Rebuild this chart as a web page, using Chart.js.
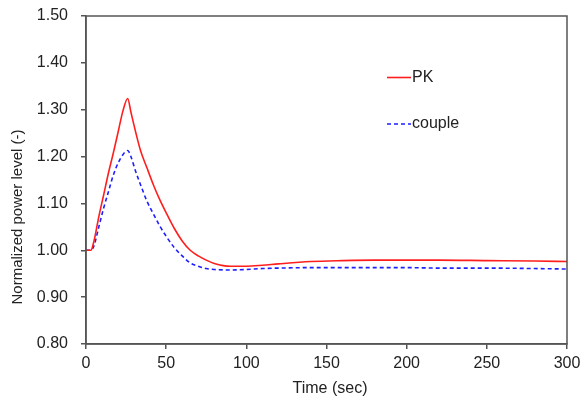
<!DOCTYPE html>
<html>
<head>
<meta charset="utf-8">
<script src="https://cdn.jsdelivr.net/npm/chart.js@4"></script>
<style>
  html, body { margin: 0; padding: 0; background: #fff; }
  #wrap { width: 581px; height: 398px; }
</style>
</head>
<body>
<div id="wrap"><canvas id="powerChart" width="581" height="398"></canvas></div>
<script>
// Time (sec)
const times = [0, 3, 5, 8, 11, 14, 17, 20, 23, 26, 28, 31, 34, 38, 42, 46, 50, 55, 60, 65, 70, 75, 80, 90, 100, 110, 120, 140, 160, 180, 200, 220, 250, 280, 300];
// PK model
const pkValues = [1.000, 1.000, 1.020, 1.072, 1.118, 1.165, 1.207, 1.252, 1.297, 1.324, 1.295, 1.252, 1.213, 1.176, 1.140, 1.108, 1.080, 1.047, 1.020, 1.000, 0.988, 0.979, 0.972, 0.966, 0.966, 0.968, 0.971, 0.976, 0.978, 0.979, 0.979, 0.979, 0.978, 0.977, 0.976];
// coupled model
const coupleValues = [1.000, 1.000, 1.010, 1.050, 1.090, 1.125, 1.160, 1.186, 1.204, 1.213, 1.200, 1.168, 1.140, 1.105, 1.078, 1.052, 1.030, 1.006, 0.988, 0.973, 0.966, 0.961, 0.959, 0.958, 0.959, 0.961, 0.962, 0.963, 0.963, 0.963, 0.963, 0.962, 0.962, 0.961, 0.960];
const xTicks = [0, 50, 100, 150, 200, 250, 300];
const yTicks = [0.8, 0.9, 1.0, 1.1, 1.2, 1.3, 1.4, 1.5];
const xTitle = "Time (sec)";
const yTitle = "Normalized power level (-)";

const toPoints = (vals) => vals.map((v, i) => ({ x: times[i], y: v }));
const fontFamily = "'Liberation Sans', Arial, sans-serif";

// cadre, titres d'axes et légende dans la zone du graphique
const framePlugin = {
  id: "frame",
  afterDraw(chart) {
    const { ctx, chartArea: a } = chart;
    ctx.save();
    ctx.strokeStyle = "#555";
    ctx.lineWidth = 1.5;
    ctx.strokeRect(a.left, a.top, a.right - a.left, a.bottom - a.top);

    ctx.fillStyle = "#222";
    ctx.textAlign = "center";
    ctx.textBaseline = "middle";
    ctx.font = "16px " + fontFamily;
    ctx.fillText(xTitle, 330, 389);
    ctx.save();
    ctx.translate(18, 217);
    ctx.rotate(-Math.PI / 2);
    ctx.font = "15px " + fontFamily;
    ctx.fillText(yTitle, 0, 0);
    ctx.restore();

    const items = [
      { ds: chart.data.datasets[0], y: 77.5 },
      { ds: chart.data.datasets[1], y: 124 },
    ];
    ctx.font = "16px " + fontFamily;
    ctx.textAlign = "left";
    items.forEach((it) => {
      ctx.beginPath();
      ctx.strokeStyle = it.ds.borderColor;
      ctx.lineWidth = it.ds.borderWidth;
      ctx.setLineDash(it.ds.borderDash || []);
      ctx.moveTo(387, it.y);
      ctx.lineTo(411, it.y);
      ctx.stroke();
      ctx.setLineDash([]);
      ctx.fillText(it.ds.label, 412, it.y);
    });
    ctx.restore();
  },
};

const font = { family: fontFamily, size: 16 };

new Chart(document.getElementById("powerChart"), {
  type: "line",
  data: {
    datasets: [
      {
        label: "PK",
        data: toPoints(pkValues),
        borderColor: "rgb(255, 30, 30)",
        borderWidth: 1.6,
        pointRadius: 0,
        cubicInterpolationMode: "monotone",
      },
      {
        label: "couple",
        data: toPoints(coupleValues),
        borderColor: "rgb(30, 30, 255)",
        borderWidth: 1.6,
        borderDash: [4, 3],
        pointRadius: 0,
        cubicInterpolationMode: "monotone",
      },
    ],
  },
  options: {
    responsive: false,
    animation: false,
    layout: { padding: { left: 0, right: 14, top: 16, bottom: 0 } },
    plugins: { legend: { display: false }, tooltip: { enabled: false } },
    scales: {
      x: {
        type: "linear",
        min: 0,
        max: 300,
        afterBuildTicks: (s) => { s.ticks = xTicks.map((v) => ({ value: v })); },
        afterFit: (s) => { s.height = 54; s.paddingLeft = 0; s.paddingRight = 0; },
        grid: { drawOnChartArea: false, tickLength: 5, color: "#555", lineWidth: 1.5 },
        border: { color: "#555", width: 1.5 },
        ticks: { color: "#222", font: font, padding: 5 },
      },
      y: {
        min: 0.8,
        max: 1.5,
        afterBuildTicks: (s) => { s.ticks = yTicks.map((v) => ({ value: v })); },
        afterFit: (s) => { s.width = 86; s.paddingTop = 0; s.paddingBottom = 0; },
        grid: { drawOnChartArea: false, tickLength: 5, color: "#555", lineWidth: 1.5 },
        border: { color: "#555", width: 1.5 },
        ticks: { color: "#222", font: font, padding: 13, callback: (v) => v.toFixed(2) },
      },
    },
  },
  plugins: [framePlugin],
});
</script>
</body>
</html>
